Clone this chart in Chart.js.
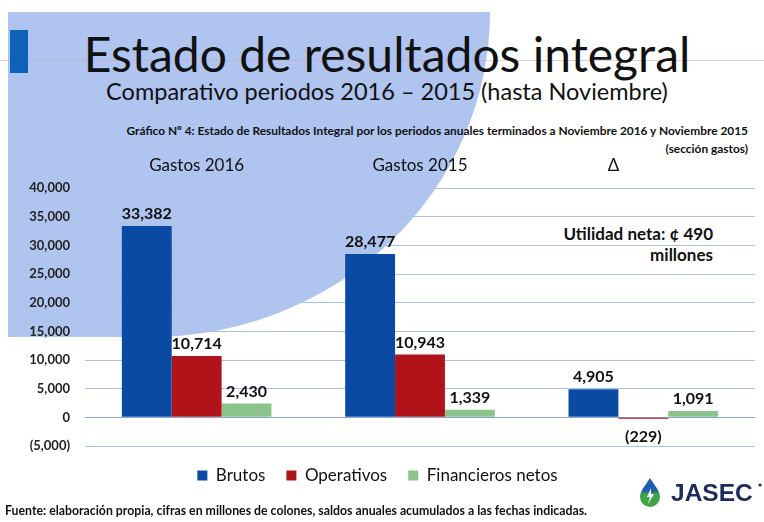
<!DOCTYPE html>
<html lang="es">
<head>
<meta charset="utf-8">
<title>Estado de resultados integral</title>
<script src="https://cdn.jsdelivr.net/npm/chart.js@4.4.1/dist/chart.umd.min.js"></script>
<style>
  body { margin: 0; background: #fff; font-family: Lato, sans-serif; }
  #slide { position: relative; width: 764px; height: 522px; overflow: hidden; background: #fff; }
  #blob { position: absolute; left: 8px; top: 12px; width: 482px; height: 325px; background: #afc4ef;
          border-bottom-right-radius: 340px 325px; }
  #rule { position: absolute; left: 0; top: 60px; width: 764px; height: 1px; background: rgba(215,150,185,0.45); }
  #mark { position: absolute; left: 10px; top: 30px; width: 18px; height: 43px; background: #0d62b8; }
  .txt { position: absolute; white-space: nowrap; color: #111; }
  #title { left: 0; width: 774px; top: 25px; text-align: center; font-size: 48px; }
  #subtitle { left: 0; width: 774px; top: 77px; text-align: center; font-size: 23.5px; }
  #caption { right: 16px; top: 122px; text-align: right; font-size: 11.9px; font-weight: bold; line-height: 18px; }
  #utilidad { right: 51px; top: 223px; text-align: right; font-size: 17px; font-weight: bold; line-height: 21px; }
  #fuente { left: 5px; top: 503px; font-size: 12.3px; font-weight: bold; }
  #logo { position: absolute; left: 638px; top: 476px; }
  canvas { position: absolute; left: 0; top: 0; }
</style>
</head>
<body>
<div id="slide">
  <div id="blob"></div>
  <div id="rule"></div>
  <div id="mark"></div>
  <div class="txt" id="title">Estado de resultados integral</div>
  <div class="txt" id="subtitle">Comparativo periodos 2016 – 2015 (hasta Noviembre)</div>
  <div class="txt" id="caption">Gráfico Nº 4: Estado de Resultados Integral por los periodos anuales terminados a Noviembre 2016 y Noviembre 2015<br>(sección gastos)</div>
  <div class="txt" id="utilidad">Utilidad neta: ¢ 490<br>millones</div>
  <canvas id="chart" width="764" height="522"></canvas>
  <div class="txt" id="fuente">Fuente: elaboración propia, cifras en millones de colones, saldos anuales acumulados a las fechas indicadas.</div>
  <svg id="logo" width="126" height="34" viewBox="0 0 126 34">
    <defs>
      <linearGradient id="drop" x1="0" y1="0" x2="0" y2="1">
        <stop offset="0.45" stop-color="#1d5fb0"/>
        <stop offset="0.55" stop-color="#3fa34a"/>
      </linearGradient>
    </defs>
    <path d="M12 2 C7 10 2 15 2 21 A10 10 0 0 0 22 21 C22 15 17 10 12 2 Z" fill="url(#drop)"/>
    <path d="M13 12 L9 21 L12 21 L10 28 L16 18 L13 18 Z" fill="#fff"/>
    <text x="33" y="25" font-family="Liberation Sans, Arial, sans-serif" font-weight="bold" font-size="24.5" fill="#1c2a5c">JASEC</text>
    <circle cx="122" cy="9" r="1.6" fill="#1c2a5c"/>
  </svg>
</div>

<script>
const categories = ['Gastos 2016', 'Gastos 2015', 'Δ'];
const brutos = [33382, 28477, 4905];
const operativos = [10714, 10943, -229];
const financieros = [2430, 1339, 1091];

function fmt(v) {
  const s = Math.abs(v).toLocaleString('en-US');
  return v < 0 ? '(' + s + ')' : s;
}

// numbers above each bar, below when negative
const valueLabels = {
  id: 'valueLabels',
  afterDatasetsDraw(chart) {
    const ctx = chart.ctx;
    ctx.save();
    ctx.font = 'bold 16px Lato';
    ctx.fillStyle = '#111';
    ctx.textAlign = 'center';
    chart.data.datasets.forEach((ds, i) => {
      chart.getDatasetMeta(i).data.forEach((bar, j) => {
        const v = ds.data[j];
        if (v < 0) {
          ctx.textBaseline = 'top';
          ctx.fillText(fmt(v), bar.x, bar.y + 10);
        } else {
          ctx.textBaseline = 'bottom';
          ctx.fillText(fmt(v), bar.x, bar.y - 4);
        }
      });
    });
    ctx.restore();
  }
};

// fixed legend height so the plot bottom and the legend row sit where the slide has them
const legendHeight = {
  id: 'legendHeight',
  beforeInit(chart) {
    const fit = chart.legend.fit;
    chart.legend.fit = function () {
      fit.call(this);
      this.height = 42;
    };
  }
};

new Chart(document.getElementById('chart'), {
  type: 'bar',
  data: {
    labels: categories,
    datasets: [
      { label: 'Brutos', data: brutos, backgroundColor: '#0b4aa2' },
      { label: 'Operativos', data: operativos, backgroundColor: '#b0141a' },
      { label: 'Financieros netos', data: financieros, backgroundColor: '#8cc38a' }
    ]
  },
  options: {
    responsive: false,
    animation: false,
    categoryPercentage: 0.67,
    barPercentage: 1.0,
    layout: { padding: { left: 0, right: 9, top: 150, bottom: 34 } },
    scales: {
      x: {
        position: 'top',
        grid: { display: false },
        border: { display: false },
        ticks: {
          color: '#111',
          font: { family: 'Lato', size: 17 },
          padding: 4,
          callback: (v, i) => i === 2 ? categories[i] + '\u2002'.repeat(7) : categories[i]
        },
        afterFit: s => { s.height = 38; }
      },
      y: {
        min: -5000,
        max: 40000,
        border: { display: false },
        grid: {
          drawTicks: false,
          color: ctx => ctx.tick && ctx.tick.value === 0 ? '#8ea6d6' : '#a9c0ea'
        },
        ticks: {
          stepSize: 5000,
          padding: 15,
          color: '#222',
          font: { family: 'Lato', size: 13, weight: 'bold' },
          callback: v => fmt(v)
        },
        afterFit: s => { s.width = 85; }
      }
    },
    plugins: {
      legend: {
        position: 'bottom',
        labels: { boxWidth: 10, boxHeight: 10, padding: 21, color: '#111', font: { family: 'Lato', size: 17 } }
      },
      tooltip: { enabled: false }
    }
  },
  plugins: [valueLabels, legendHeight]
});
</script>
</body>
</html>
